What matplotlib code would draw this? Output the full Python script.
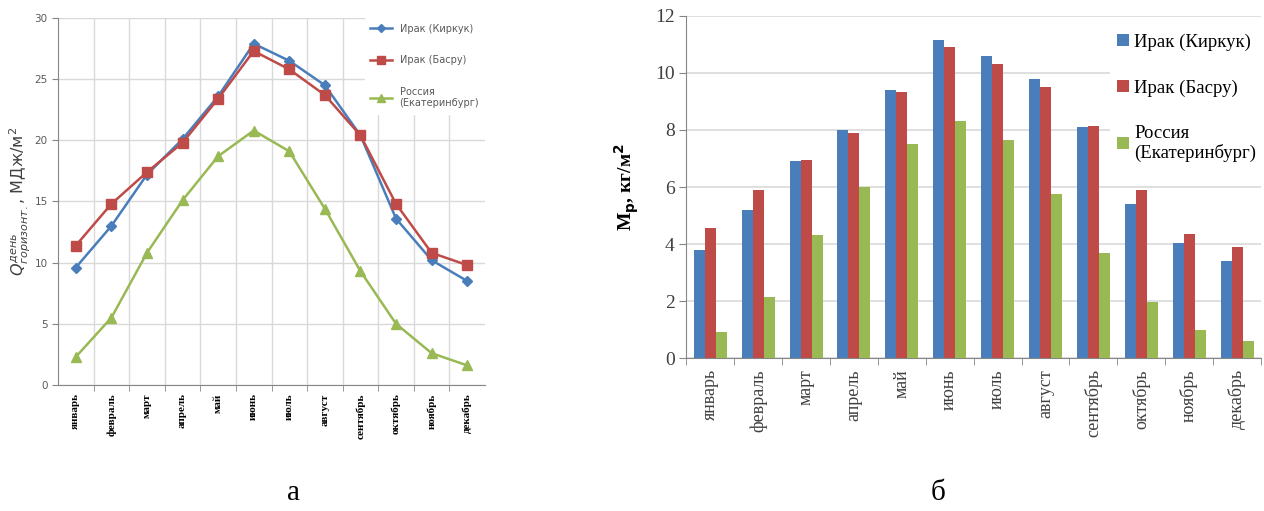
import matplotlib
matplotlib.use("Agg")
import matplotlib.pyplot as plt
import numpy as np

months = ["январь", "февраль", "март", "апрель", "май", "июнь",
          "июль", "август", "сентябрь", "октябрь", "ноябрь", "декабрь"]
series_names = ["Ирак (Киркук)", "Ирак (Басру)", "Россия\n(Екатеринбург)"]

# Panel а: daily horizontal radiation, MJ/m2
q_kirkuk = [9.6, 13.0, 17.2, 20.1, 23.6, 27.9, 26.5, 24.5, 20.4, 13.6, 10.2, 8.5]
q_basra = [11.4, 14.8, 17.4, 19.8, 23.4, 27.3, 25.8, 23.7, 20.4, 14.8, 10.8, 9.8]
q_russia = [2.3, 5.5, 10.8, 15.1, 18.7, 20.8, 19.1, 14.4, 9.3, 5.0, 2.6, 1.6]

# Panel б: Mр, kg/m2
m_kirkuk = [3.8, 5.2, 6.9, 8.0, 9.4, 11.15, 10.6, 9.8, 8.1, 5.4, 4.05, 3.4]
m_basra = [4.55, 5.9, 6.95, 7.9, 9.35, 10.9, 10.3, 9.5, 8.15, 5.9, 4.35, 3.9]
m_russia = [0.9, 2.15, 4.3, 6.0, 7.5, 8.3, 7.65, 5.75, 3.7, 1.95, 1.0, 0.6]

c_blue = "#4A7EBB"
c_red = "#BE4B48"
c_green = "#98B954"
grid_c = "#D9D9D9"
axis_c = "#868686"

plt.rcParams["mathtext.fontset"] = "dejavusans"
fig = plt.figure(figsize=(12.64, 5.11), dpi=100)

# ---------------- Panel а ----------------
ax1 = fig.add_axes([0.0459, 0.2466, 0.3378, 0.7182])
x = np.arange(len(months))
ax1.plot(x, q_kirkuk, color=c_blue, lw=1.8, marker="D", ms=5, label=series_names[0], zorder=3)
ax1.plot(x, q_basra, color=c_red, lw=1.8, marker="s", ms=6.5, label=series_names[1], zorder=3)
ax1.plot(x, q_russia, color=c_green, lw=1.8, marker="^", ms=6.5, label=series_names[2], zorder=3)
ax1.set_xlim(-0.5, 11.5)
ax1.set_ylim(0, 30)
ax1.set_yticks(np.arange(0, 31, 5))
ax1.set_xticks(x)
ax1.set_xticklabels(months, rotation=90, fontsize=8, fontweight="bold",
                    family="Liberation Serif", va="top")
ax1.set_xticks(np.arange(0.5, 11.5, 1), minor=True)
ax1.tick_params(axis="x", which="major", length=0, pad=6)
ax1.tick_params(axis="x", which="minor", length=4, color=axis_c)
ax1.tick_params(axis="y", labelsize=7.5, labelcolor="#595959", length=4, color=axis_c)
ax1.grid(axis="y", which="major", color=grid_c, lw=1)
ax1.grid(axis="x", which="minor", color=grid_c, lw=1)
ax1.set_axisbelow(True)
for s in ["top", "right"]:
    ax1.spines[s].set_visible(False)
for s in ["left", "bottom"]:
    ax1.spines[s].set_color(axis_c)
ax1.set_ylabel(r"$Q^{день}_{горизонт.}$, МДж/м$^2$", fontsize=11.5, color="#404040")
ax1.yaxis.set_label_coords(-0.058, 0.5)
leg1 = ax1.legend(loc="upper right", bbox_to_anchor=(1.0, 1.0), fontsize=7,
                  frameon=True, facecolor="white", edgecolor="white", framealpha=1,
                  labelspacing=2.2, handlelength=2.2, borderaxespad=0.0,
                  borderpad=0.6, markerscale=0.8)
for t in leg1.get_texts():
    t.set_color("#595959")

# ---------------- Panel б ----------------
ax2 = fig.add_axes([0.543, 0.2994, 0.4546, 0.6693])
w = 0.23
ax2.bar(x - w, m_kirkuk, width=w, color=c_blue, label=series_names[0], zorder=3)
ax2.bar(x, m_basra, width=w, color=c_red, label=series_names[1], zorder=3)
ax2.bar(x + w, m_russia, width=w, color=c_green, label=series_names[2], zorder=3)
ax2.set_xlim(-0.5, 11.5)
ax2.set_ylim(0, 12)
ax2.set_yticks(np.arange(0, 13, 2))
ax2.set_yticklabels([str(v) for v in range(0, 13, 2)], family="Liberation Serif",
                    fontsize=14, color="#404040")
ax2.set_xticks(x)
ax2.set_xticklabels(months, rotation=90, fontsize=13, family="Liberation Serif",
                    color="#404040", va="top")
ax2.set_xticks(np.arange(-0.5, 12, 1), minor=True)
ax2.tick_params(axis="x", which="major", length=0, pad=8)
ax2.tick_params(axis="x", which="minor", length=5, color=axis_c)
ax2.tick_params(axis="y", length=5, color=axis_c)
ax2.grid(axis="y", color=grid_c, lw=1.2)
ax2.set_axisbelow(True)
for s in ["top", "right"]:
    ax2.spines[s].set_visible(False)
for s in ["left", "bottom"]:
    ax2.spines[s].set_color(axis_c)
ax2.set_ylabel(r"M$_{\mathbf{р}}$, кг/м$^{\mathbf{2}}$", fontsize=14, fontweight="bold",
               family="Liberation Serif", labelpad=10)
leg2 = ax2.legend(loc="upper right", bbox_to_anchor=(1.005, 0.97),
                  frameon=True, facecolor="white", edgecolor="white", framealpha=1,
                  labelspacing=1.5, handlelength=0.6, handleheight=0.6,
                  handletextpad=0.3, borderaxespad=0.0,
                  prop={"family": "Liberation Serif", "size": 13.5})

fig.text(0.232, 0.035, "а", fontsize=21, family="Liberation Serif", ha="center", va="center")
fig.text(0.742, 0.035, "б", fontsize=21, family="Liberation Serif", ha="center", va="center")

fig.savefig("out.png", dpi=100)
